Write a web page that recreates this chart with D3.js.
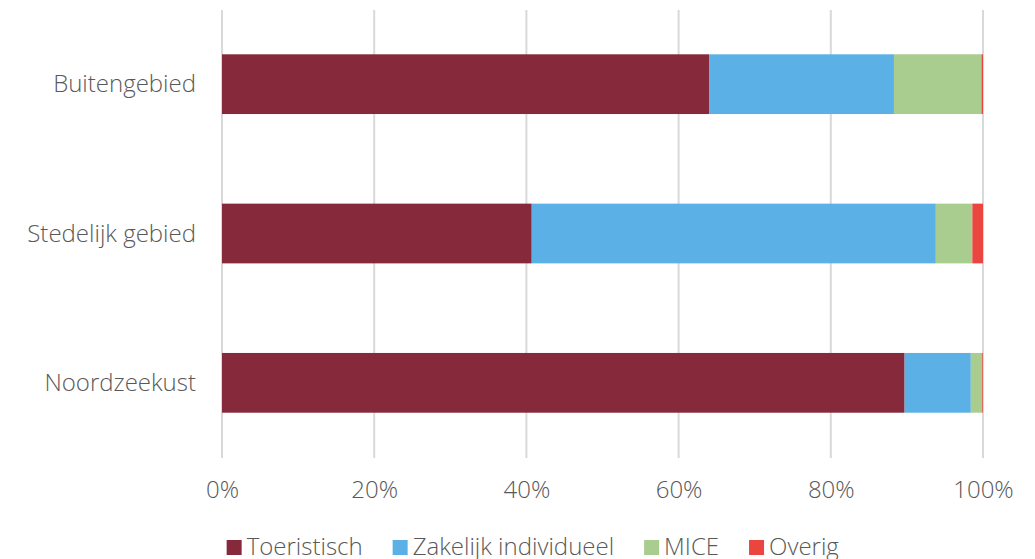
<!DOCTYPE html>
<html>
<head>
<meta charset="utf-8">
<script src="https://cdn.jsdelivr.net/npm/d3@7"></script>
<style>
body{margin:0;background:#fff;}
svg{display:block;}
text{font-family:"Open Sans",sans-serif;font-weight:300;fill:#595959;}
</style>
</head>
<body>
<script>
var width=1035;
var height=559;
var margin={top:10,right:52,bottom:101,left:222};

// categories top to bottom
var categories=["Buitengebied","Stedelijk gebied","Noordzeekust"];
var seriesNames=["Toeristisch","Zakelijk individueel","MICE","Overig"];
var colors=["#86293b","#5bb1e6","#a9cd8f","#ea463f"];
// percentages per category, one array per series
var toeristisch=[64.0,40.7,89.7];
var zakelijk=[24.3,53.1,8.7];
var mice=[11.5,4.8,1.5];
var overig=[0.2,1.4,0.1];
var tickValues=[0,0.2,0.4,0.6,0.8,1];

var rows=categories.map(function(c,i){
    return {cat:c,"Toeristisch":toeristisch[i],"Zakelijk individueel":zakelijk[i],"MICE":mice[i],"Overig":overig[i]};
});
var stacked=d3.stack().keys(seriesNames).offset(d3.stackOffsetExpand)(rows);

var svg=d3.select("body").append("svg").attr("width",width).attr("height",height);

var x=d3.scaleLinear().domain([0,1]).range([margin.left,width-margin.right]);
var y=d3.scaleBand().domain(categories).range([margin.top,height-margin.bottom]).paddingInner(0.6).paddingOuter(0.3);

// gridlines
svg.append("g").selectAll("line").data(tickValues).enter().append("line")
    .attr("x1",function(d){return x(d);})
    .attr("x2",function(d){return x(d);})
    .attr("y1",margin.top)
    .attr("y2",height-margin.bottom)
    .attr("stroke","#d9d9d9")
    .attr("stroke-width",2);

// bars
svg.append("g").selectAll("g").data(stacked).enter().append("g")
    .attr("fill",function(d,i){return colors[i];})
    .selectAll("rect").data(function(d){return d;}).enter().append("rect")
    .attr("x",function(d){return x(d[0]);})
    .attr("y",function(d){return y(d.data.cat)-0.5;})
    .attr("width",function(d){return x(d[1])-x(d[0]);})
    .attr("height",y.bandwidth());

// x axis labels
var xAxis=d3.axisBottom(x).tickValues(tickValues).tickSize(0).tickPadding(0)
    .tickFormat(function(d){return Math.round(d*100)+"%";});
var gx=svg.append("g").attr("transform","translate(0,"+(height-margin.bottom+23)+")").call(xAxis);
gx.select(".domain").remove();
gx.selectAll("text").attr("font-size","24px").attr("fill","#595959").attr("font-family","Open Sans").attr("font-weight",300);

// y axis labels
var yAxis=d3.axisLeft(y).tickSize(0).tickPadding(26);
var gy=svg.append("g").attr("transform","translate("+margin.left+",0)").call(yAxis);
gy.select(".domain").remove();
gy.selectAll("text").attr("font-size","24px").attr("fill","#595959").attr("font-family","Open Sans").attr("font-weight",300);

// legend
var legend=svg.append("g");
var lx=0;
var items=legend.selectAll("g").data(seriesNames).enter().append("g");
items.append("rect").attr("width",15).attr("height",15).attr("y",-7).attr("fill",function(d,i){return colors[i];});
items.append("text").attr("x",20).attr("dy","0.35em").attr("font-size","24px").text(function(d){return d;});
items.each(function(){
    d3.select(this).attr("transform","translate("+lx+",0)");
    lx+=this.getBBox().width+30;
});
lx-=30;
legend.attr("transform","translate("+(533-lx/2)+",547)");
</script>
</body>
</html>
